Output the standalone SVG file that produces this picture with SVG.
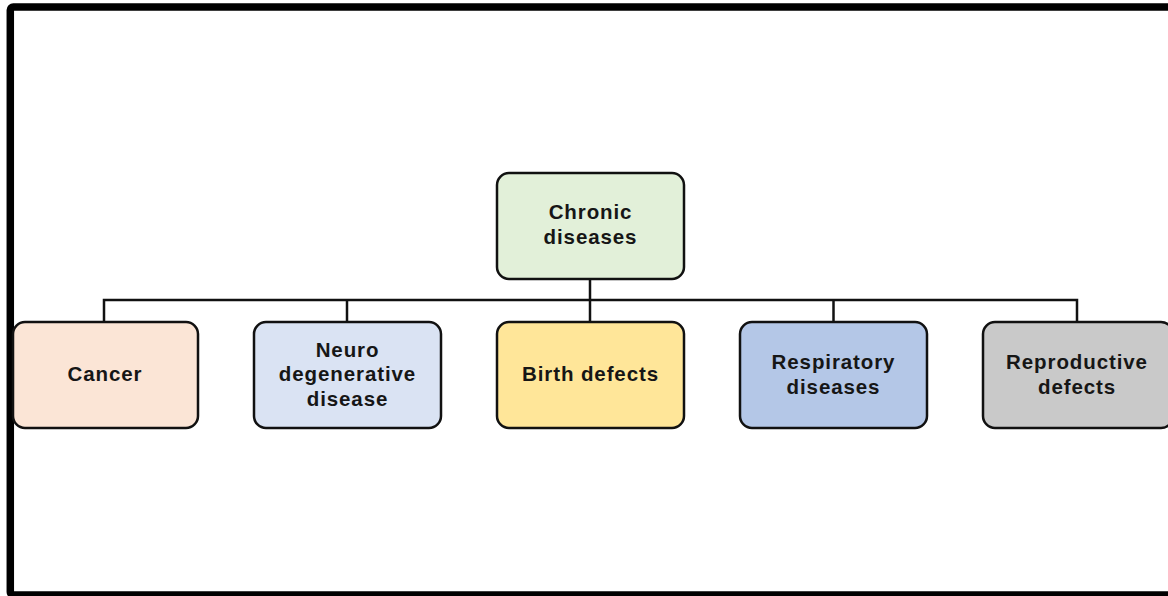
<svg xmlns="http://www.w3.org/2000/svg" width="1168" height="596" viewBox="0 0 1168 596">
  <style>
    .box { stroke: #111; stroke-width: 2.5; }
    .lbl { font-family: "Liberation Sans", Arial, sans-serif; font-weight: bold; font-size: 20.5px; letter-spacing: 0.9px; fill: #161616; text-anchor: middle; }
    .wire { fill: none; stroke: #111; stroke-width: 2.5; }
  </style>
  <rect width="1168" height="596" fill="#ffffff"/>
  <!-- outer frame -->
  <rect x="10.3" y="7" width="1170" height="588" rx="3" fill="none" stroke="#000" stroke-width="7.5"/>

  <g id="connectors">
    <path class="wire" d="M590 279 V300"/>
    <path class="wire" d="M104 322 V300 H1077 V322"/>
    <path class="wire" d="M347 300 V322"/>
    <path class="wire" d="M590 300 V322"/>
    <path class="wire" d="M833.5 300 V322"/>
  </g>

  <g id="chronic">
    <rect class="box" x="497" y="173" width="187" height="106" rx="12" fill="#E2F0D9"/>
    <text class="lbl" x="590.5" y="219">Chronic</text>
    <text class="lbl" x="590.5" y="244">diseases</text>
  </g>
  <g id="cancer">
    <rect class="box" x="13" y="322" width="185" height="106" rx="12" fill="#FBE5D6"/>
    <text class="lbl" x="105" y="381">Cancer</text>
  </g>
  <g id="neuro">
    <rect class="box" x="254" y="322" width="187" height="106" rx="12" fill="#DAE3F3"/>
    <text class="lbl" x="347.5" y="357">Neuro</text>
    <text class="lbl" x="347.5" y="381">degenerative</text>
    <text class="lbl" x="347.5" y="406">disease</text>
  </g>
  <g id="birth">
    <rect class="box" x="497" y="322" width="187" height="106" rx="12" fill="#FFE699"/>
    <text class="lbl" x="590.5" y="381">Birth defects</text>
  </g>
  <g id="respiratory">
    <rect class="box" x="740" y="322" width="187" height="106" rx="12" fill="#B4C7E7"/>
    <text class="lbl" x="833.5" y="369">Respiratory</text>
    <text class="lbl" x="833.5" y="394">diseases</text>
  </g>
  <g id="reproductive">
    <rect class="box" x="983" y="322" width="190" height="106" rx="12" fill="#C9C9C9"/>
    <text class="lbl" x="1077" y="369">Reproductive</text>
    <text class="lbl" x="1077" y="394">defects</text>
  </g>
</svg>
